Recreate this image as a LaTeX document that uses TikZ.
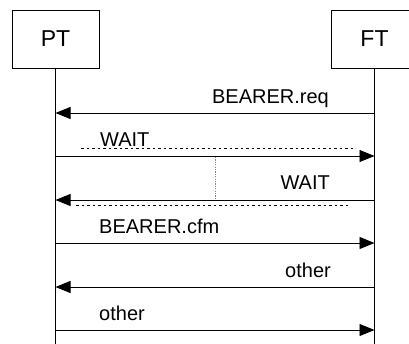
\documentclass[tikz,border=0pt]{standalone}
\usepackage{fontspec}
\setmainfont{Liberation Sans}
\usetikzlibrary{arrows.meta}
\begin{document}
\begin{tikzpicture}[x=1pt,y=-1pt,
  ent/.style={draw=black, line width=0.8pt, minimum width=87pt, minimum height=58pt, inner sep=0pt, font=\fontsize{23}{27}\selectfont},
  life/.style={draw=black, line width=0.9pt},
  msg/.style={draw=black, line width=0.9pt, -{Triangle[length=15pt,width=12pt]}},
  lbl/.style={inner sep=0pt, font=\fontsize{20}{24}\selectfont},
  dots/.style={draw=black, line width=0.8pt, dash pattern=on 2.5pt off 3pt},
  vdots/.style={draw=gray, line width=0.8pt, dash pattern=on 1.2pt off 1.2pt}]
\useasboundingbox (0,0) rectangle (409,343);
\node[ent] (PT) at (55.5,39) {PT};
\node[ent] (FT) at (374.5,39) {FT};
\coordinate (PTend) at (55.5,345);
\coordinate (FTend) at (374.5,345);
\draw[life] (PT.south) -- (PTend);
\draw[life] (FT.south) -- (FTend);
% message end points
\coordinate (p1) at (55.5,113); \coordinate (f1) at (374.5,113);
\coordinate (p2) at (55.5,156); \coordinate (f2) at (374.5,156);
\coordinate (p3) at (55.5,200); \coordinate (f3) at (374.5,200);
\coordinate (p4) at (55.5,243); \coordinate (f4) at (374.5,243);
\coordinate (p5) at (55.5,287); \coordinate (f5) at (374.5,287);
\coordinate (p6) at (55.5,330); \coordinate (f6) at (374.5,330);
% messages
\draw[msg] (f1) -- (p1);
\node[lbl, anchor=base east] (l1) at (329,103) {BEARER.req};
\draw[msg] (p2) -- (f2);
\node[lbl, anchor=base west] (l2) at (100,146) {WAIT};
\coordinate (d2a) at (81,148); \coordinate (d2b) at (356,148);
\draw[dots] (d2a) -- (d2b);
\coordinate (va) at (215,157); \coordinate (vb) at (215,198);
\draw[vdots] (va) -- (vb);
\draw[msg] (f3) -- (p3);
\node[lbl, anchor=base east] (l3) at (330,189) {WAIT};
\coordinate (d3a) at (76,205); \coordinate (d3b) at (350,205);
\draw[dots] (d3a) -- (d3b);
\draw[msg] (p4) -- (f4);
\node[lbl, anchor=base west] (l4) at (99,233) {BEARER.cfm};
\draw[msg] (f5) -- (p5);
\node[lbl, anchor=base east] (l5) at (331,277) {other};
\draw[msg] (p6) -- (f6);
\node[lbl, anchor=base west] (l6) at (99,320) {other};
\end{tikzpicture}
\end{document}
